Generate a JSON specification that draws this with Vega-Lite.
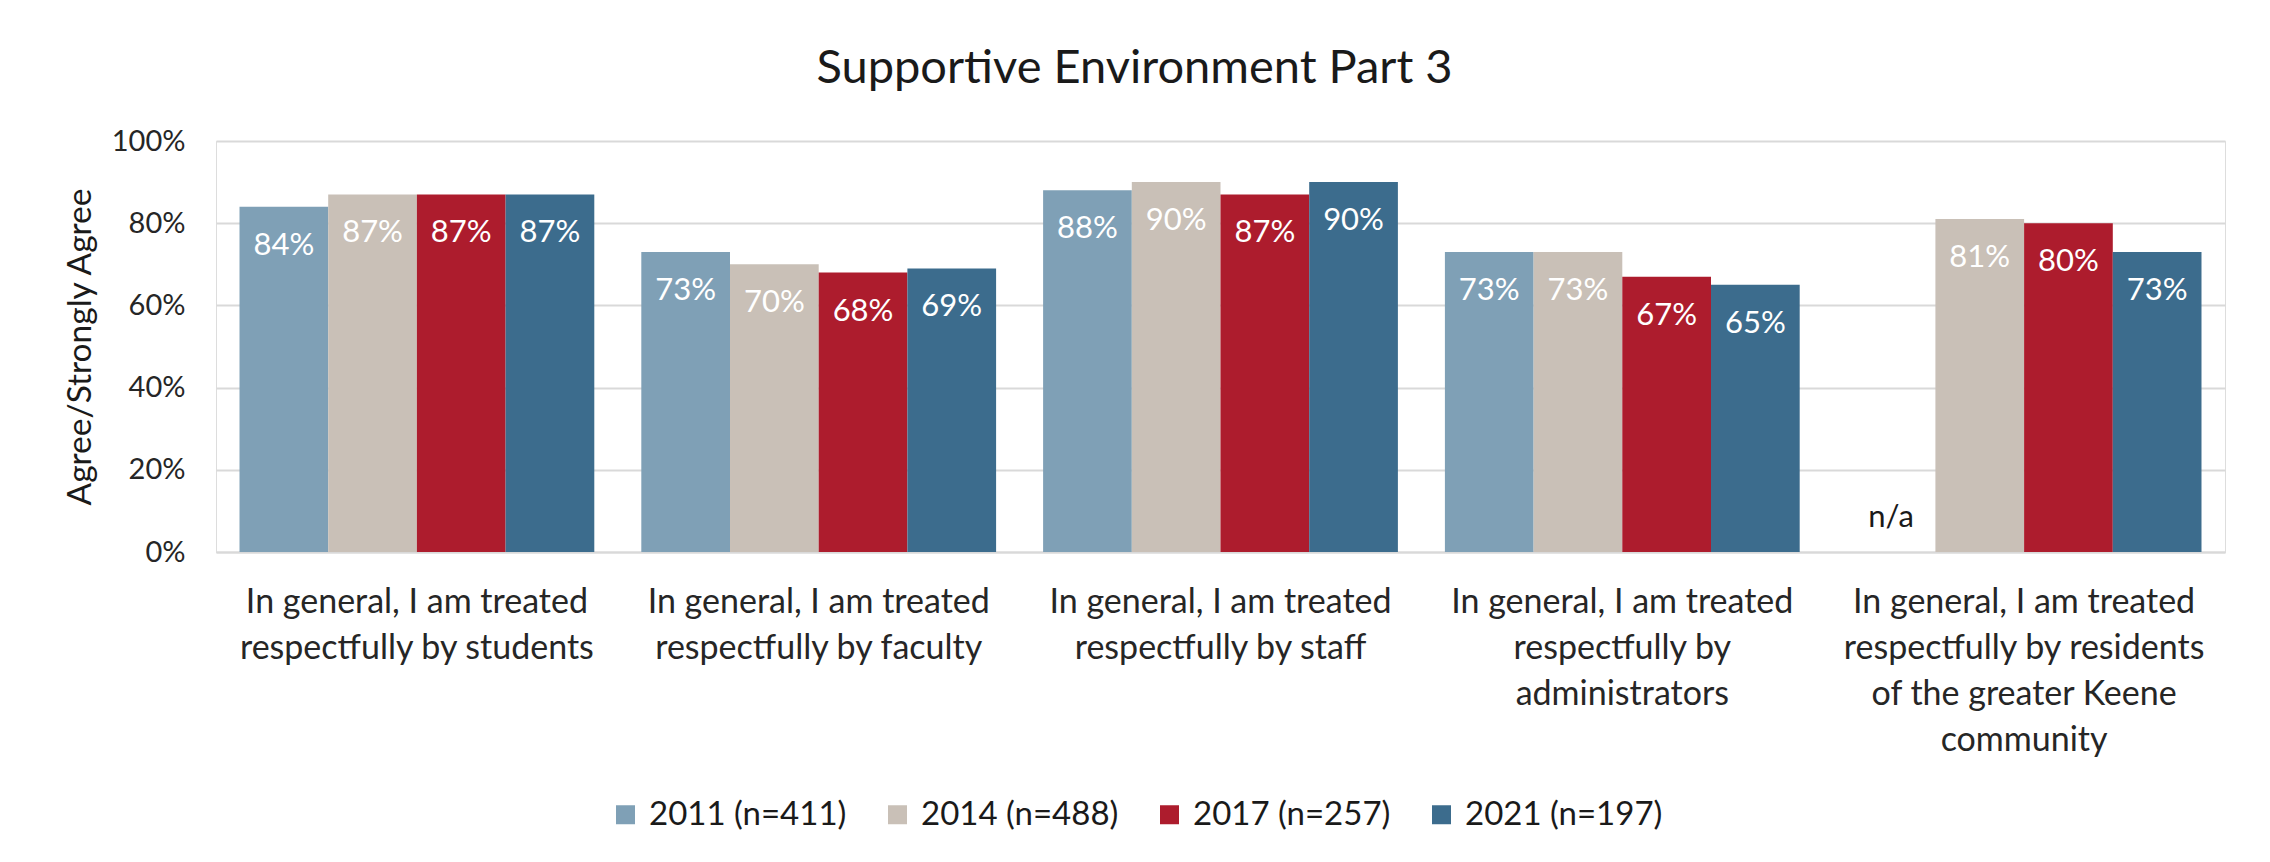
{
  "$schema": "https://vega.github.io/schema/vega-lite/v6.json",
  "width": 2009,
  "height": 411,
  "autosize": "none",
  "padding": {"left": 216, "top": 141, "right": 45, "bottom": 310},
  "background": "white",
  "title": {"text": "Supportive Environment Part 3", "font": "Lato", "fontSize": 47, "fontWeight": "normal", "color": "#1a1a1a", "anchor": "middle", "dx": -86, "baseline": "alphabetic", "offset": -3},
  "datasets": {
    "bars": [
      {"item": "In general, I am treated|respectfully by students", "year": "2011 (n=411)", "value": 0.84},
      {"item": "In general, I am treated|respectfully by students", "year": "2014 (n=488)", "value": 0.87},
      {"item": "In general, I am treated|respectfully by students", "year": "2017 (n=257)", "value": 0.87},
      {"item": "In general, I am treated|respectfully by students", "year": "2021 (n=197)", "value": 0.87},
      {"item": "In general, I am treated|respectfully by faculty", "year": "2011 (n=411)", "value": 0.73},
      {"item": "In general, I am treated|respectfully by faculty", "year": "2014 (n=488)", "value": 0.70},
      {"item": "In general, I am treated|respectfully by faculty", "year": "2017 (n=257)", "value": 0.68},
      {"item": "In general, I am treated|respectfully by faculty", "year": "2021 (n=197)", "value": 0.69},
      {"item": "In general, I am treated|respectfully by staff", "year": "2011 (n=411)", "value": 0.88},
      {"item": "In general, I am treated|respectfully by staff", "year": "2014 (n=488)", "value": 0.90},
      {"item": "In general, I am treated|respectfully by staff", "year": "2017 (n=257)", "value": 0.87},
      {"item": "In general, I am treated|respectfully by staff", "year": "2021 (n=197)", "value": 0.90},
      {"item": "In general, I am treated|respectfully by|administrators", "year": "2011 (n=411)", "value": 0.73},
      {"item": "In general, I am treated|respectfully by|administrators", "year": "2014 (n=488)", "value": 0.73},
      {"item": "In general, I am treated|respectfully by|administrators", "year": "2017 (n=257)", "value": 0.67},
      {"item": "In general, I am treated|respectfully by|administrators", "year": "2021 (n=197)", "value": 0.65},
      {"item": "In general, I am treated|respectfully by residents|of the greater Keene|community", "year": "2014 (n=488)", "value": 0.81},
      {"item": "In general, I am treated|respectfully by residents|of the greater Keene|community", "year": "2017 (n=257)", "value": 0.80},
      {"item": "In general, I am treated|respectfully by residents|of the greater Keene|community", "year": "2021 (n=197)", "value": 0.73}
    ],
    "notes": [
      {"item": "In general, I am treated|respectfully by residents|of the greater Keene|community", "year": "2011 (n=411)", "note": "n/a", "base": 0}
    ]
  },
  "layer": [
    {
      "data": {"name": "bars"},
      "mark": {"type": "bar"},
      "encoding": {
        "x": {
          "field": "item", "type": "nominal", "sort": null,
          "scale": {"paddingInner": 0.117, "paddingOuter": 0.0585},
          "axis": {"title": null, "labelAngle": 0, "labelFont": "Lato", "labelFontSize": 34, "labelColor": "#262626", "ticks": false, "tickSize": 0, "domain": true, "domainColor": "#D9D9D9", "domainWidth": 2, "labelPadding": 33, "labelLineHeight": 46, "labelBaseline": "top", "labelExpr": "split(datum.label, '|')", "labelLimit": 0}
        },
        "xOffset": {"field": "year", "type": "nominal", "sort": null, "scale": {"domain": ["2011 (n=411)", "2014 (n=488)", "2017 (n=257)", "2021 (n=197)"], "paddingInner": 0, "paddingOuter": 0}},
        "y": {
          "field": "value", "type": "quantitative",
          "scale": {"domain": [0, 1]},
          "axis": {"title": "Agree/Strongly Agree", "values": [0, 0.2, 0.4, 0.6, 0.8, 1], "format": ".0%", "labelFont": "Lato", "labelFontSize": 29, "labelColor": "#262626", "ticks": false, "tickSize": 0, "domain": false, "gridColor": "#D9D9D9", "gridWidth": 2, "labelPadding": 31, "titleFont": "Lato", "titleFontSize": 33.5, "titleFontWeight": "normal", "titleColor": "#1a1a1a", "titlePadding": 14}
        },
        "color": {
          "field": "year", "type": "nominal", "sort": null,
          "scale": {"domain": ["2011 (n=411)", "2014 (n=488)", "2017 (n=257)", "2021 (n=197)"], "range": ["#7FA0B6", "#C9C0B7", "#AD1C2D", "#3C6C8D"]},
          "legend": {"title": null, "orient": "none", "legendX": 393, "legendY": 657, "direction": "horizontal", "symbolType": "square", "symbolSize": 361, "symbolStrokeWidth": 0, "labelFont": "Lato", "labelFontSize": 33, "labelColor": "#1a1a1a", "labelLimit": 0, "columnPadding": 34, "labelOffset": 7}
        }
      }
    },
    {
      "data": {"name": "bars"},
      "mark": {"type": "text", "font": "Lato", "fontSize": 31, "color": "white", "baseline": "alphabetic", "dy": 48},
      "encoding": {
        "x": {"field": "item", "type": "nominal", "sort": null},
        "xOffset": {"field": "year", "type": "nominal", "sort": null},
        "y": {"field": "value", "type": "quantitative"},
        "text": {"field": "value", "type": "quantitative", "format": ".0%"}
      }
    },
    {
      "data": {"name": "notes"},
      "mark": {"type": "text", "font": "Lato", "fontSize": 31, "color": "#1a1a1a", "baseline": "alphabetic", "dy": -25},
      "encoding": {
        "x": {"field": "item", "type": "nominal", "sort": null},
        "xOffset": {"field": "year", "type": "nominal", "sort": null},
        "y": {"field": "base", "type": "quantitative"},
        "text": {"field": "note", "type": "nominal"}
      }
    }
  ]
}
